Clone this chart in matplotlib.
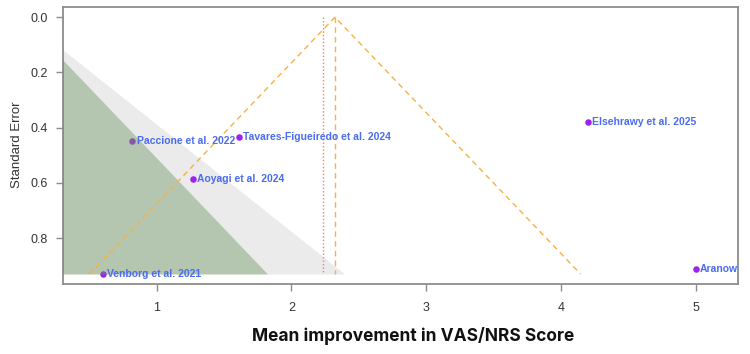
import numpy as np
import matplotlib
matplotlib.use("Agg")
import matplotlib.pyplot as plt

studies = ["Paccione et al. 2022", "Tavares-Figueiredo et al. 2024", "Aoyagi et al. 2024",
           "Venborg et al. 2021", "Elsehrawy et al. 2025", "Aranow"]
effects = [0.82, 1.61, 1.27, 0.60, 4.20, 5.00]
ses = [0.448, 0.435, 0.585, 0.930, 0.379, 0.911]

pooled = 2.323
alt_est = 2.232
z_levels = [1.96, 2.576]
se_max = 0.93
xticks = [1, 2, 3, 4, 5]
yticks = [0.0, 0.2, 0.4, 0.6, 0.8]

plt.rcParams['font.family'] = ['Liberation Sans', 'DejaVu Sans']
fig = plt.figure(figsize=(7.5, 3.54), dpi=100)
ax = fig.add_axes([0.0836, 0.1986, 0.9, 0.7824])

se_grid = np.linspace(0, se_max, 50)
# gray contour (1.96 - 2.576)
ax.fill_betweenx(se_grid, z_levels[0] * se_grid, z_levels[1] * se_grid, color="#ebebeb", lw=0, zorder=1)
ax.fill_betweenx(se_grid, -z_levels[1] * se_grid, -z_levels[0] * se_grid, color="#ebebeb", lw=0, zorder=1)

# points
ax.scatter(effects, ses, s=22, color="#a020f0", zorder=3, linewidths=0)

# green contour (non-significant), semi-transparent over points
ax.fill_betweenx(se_grid, -z_levels[0] * se_grid, z_levels[0] * se_grid, color="#6a8f63", alpha=0.5, lw=0, zorder=4)

# funnel lines
ax.plot([pooled - 1.96 * se_max, pooled, pooled + 1.96 * se_max], [se_max, 0, se_max],
        ls=(0, (4, 3)), color="#fbb040", lw=1.0, zorder=5)
ax.plot([pooled, pooled], [0, se_max], ls=(0, (4, 3)), color="#fbb040", lw=1.0, zorder=5)
ax.plot([alt_est, alt_est], [0, se_max], ls=(0, (1, 1.5)), color="#f08070", lw=1.0, zorder=5)

for name, x, y in zip(studies, effects, ses):
    ax.annotate(name, (x, y), xytext=(3, 0), textcoords="offset points", va="center", ha="left",
                fontsize=7.5, fontweight="bold", color="#4a6cf0", zorder=6, annotation_clip=False,
                clip_on=True)

ax.set_xlim(0.302, 5.312)
ax.set_ylim(0.965, -0.038)
ax.set_xticks(xticks)
ax.set_xticklabels([str(t) for t in xticks])
ax.set_yticks(yticks)
ax.set_yticklabels([f"{t:.1f}" for t in yticks])
for sp in ax.spines.values():
    sp.set_color("#8c8c8c")
    sp.set_linewidth(1.3)
ax.tick_params(direction="out", length=5, width=1, color="#8c8c8c", labelsize=9, pad=6, labelcolor="#333333")
ax.tick_params(axis="x", pad=8)

ax.set_ylabel("Standard Error", fontsize=9.5, color="#333333", labelpad=5)
fig.text(0.551, 0.052, "Mean improvement in VAS/NRS Score", ha="center", va="center",
         fontsize=12.5, fontweight="bold", family=["Inter", "DejaVu Sans"], color="#111111")

fig.savefig("out.png", dpi=100)
